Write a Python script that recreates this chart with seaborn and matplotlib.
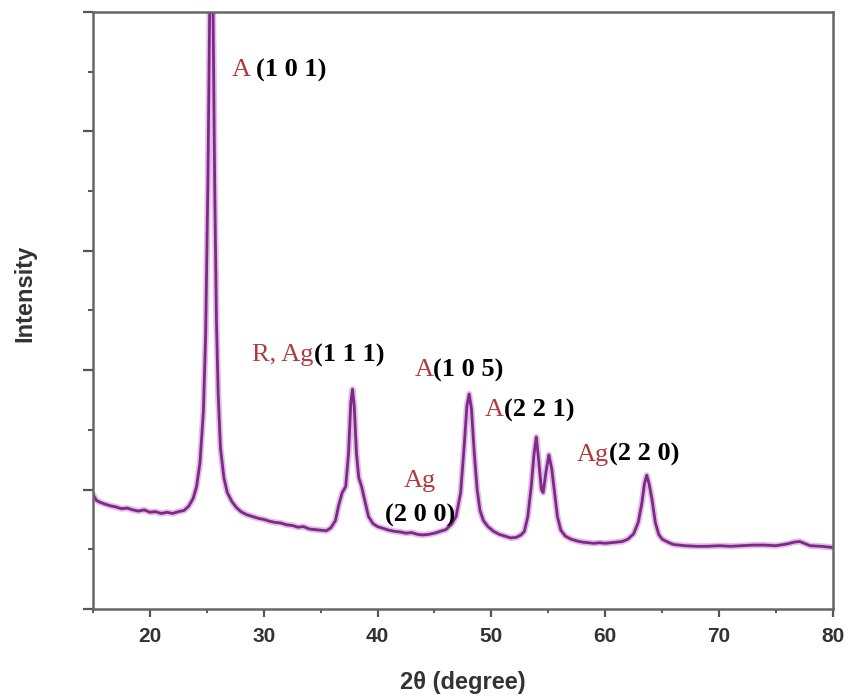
import matplotlib
matplotlib.use("Agg")
import matplotlib.pyplot as plt
import numpy as np
import pandas as pd
import seaborn as sns

# Padrão de DRX (2θ em graus, intensidade em unidades arbitrárias)
dois_theta = [
    15.0, 15.3, 15.6, 16.0, 16.5, 17.0, 17.5, 18.0, 18.5, 19.0, 19.5, 20.0,
    20.5, 21.0, 21.5, 22.0, 22.5, 23.0, 23.4, 23.8, 24.1, 24.4, 24.7, 24.9,
    25.1, 25.25, 25.4, 25.55, 25.7, 25.85, 26.0, 26.2, 26.5, 26.8, 27.2, 27.6,
    28.0, 28.5, 29.0, 29.5, 30.0, 30.5, 31.0, 31.5, 32.0, 32.5, 33.0, 33.5,
    34.0, 34.5, 35.0, 35.5, 35.9, 36.3, 36.6, 36.9, 37.2, 37.45, 37.65, 37.8,
    37.95, 38.15, 38.35, 38.6, 38.9, 39.2, 39.6, 40.0, 40.5, 41.0, 41.5, 42.0,
    42.5, 43.0, 43.5, 44.0, 44.5, 45.0, 45.5, 46.0, 46.5, 46.9, 47.3, 47.6,
    47.85, 48.05, 48.25, 48.5, 48.75, 49.0, 49.3, 49.7, 50.2, 50.7, 51.2, 51.7,
    52.2, 52.6, 52.9, 53.2, 53.5, 53.75, 53.95, 54.15, 54.4, 54.55, 54.8, 55.05,
    55.3, 55.55, 55.8, 56.1, 56.5, 57.0, 57.5, 58.0, 58.5, 59.0, 59.5, 60.0,
    60.5, 61.0, 61.5, 62.0, 62.5, 62.9, 63.2, 63.45, 63.65, 63.85, 64.1, 64.4,
    64.7, 65.0, 65.5, 66.0, 67.0, 68.0, 69.0, 70.0, 71.0, 72.0, 73.0, 74.0,
    75.0, 76.0, 76.6, 77.1, 77.6, 78.0, 79.0, 80.0,
]
intensidade = [
    1.92, 1.82, 1.79, 1.76, 1.73, 1.71, 1.68, 1.69, 1.66, 1.64, 1.66, 1.62,
    1.63, 1.60, 1.62, 1.60, 1.63, 1.65, 1.72, 1.85, 2.05, 2.45, 3.30, 4.60,
    7.20, 10.0, 11.5, 10.0, 7.00, 4.80, 3.60, 2.70, 2.20, 1.95, 1.80, 1.70,
    1.63, 1.58, 1.55, 1.52, 1.50, 1.47, 1.45, 1.44, 1.41, 1.40, 1.37, 1.38,
    1.34, 1.33, 1.32, 1.31, 1.36, 1.48, 1.75, 1.95, 2.05, 2.60, 3.45, 3.68,
    3.40, 2.60, 2.20, 2.05, 1.80, 1.55, 1.43, 1.38, 1.35, 1.32, 1.30, 1.29,
    1.27, 1.28, 1.25, 1.24, 1.25, 1.27, 1.30, 1.33, 1.42, 1.55, 1.95, 2.70,
    3.40, 3.60, 3.35, 2.60, 2.00, 1.65, 1.48, 1.38, 1.30, 1.25, 1.22, 1.19,
    1.20, 1.24, 1.30, 1.55, 2.05, 2.60, 2.88, 2.50, 2.00, 1.95, 2.30, 2.58,
    2.35, 1.95, 1.55, 1.32, 1.22, 1.17, 1.14, 1.12, 1.11, 1.10, 1.11, 1.10,
    1.11, 1.12, 1.13, 1.17, 1.26, 1.45, 1.75, 2.10, 2.24, 2.10, 1.85, 1.45,
    1.25, 1.17, 1.12, 1.08, 1.06, 1.05, 1.05, 1.06, 1.05, 1.06, 1.07, 1.07,
    1.06, 1.09, 1.12, 1.13, 1.09, 1.06, 1.05, 1.03,
]

# Rótulos dos picos: parte vermelha (fase), parte preta (índices de Miller)
rotulos_fase = ["A ", "R, Ag", "A", "A", "Ag"]
rotulos_hkl = ["(1 0 1)", "(1 1 1)", "(1 0 5)", "(2 2 1)", "(2 2 0)"]
rotulos_x = [29.3, 34.4, 44.9, 51.1, 60.3]
rotulos_y = [9.02, 4.25, 4.0, 3.33, 2.58]

# Rótulo empilhado do pico Ag(200)
ag200_x = 43.7
ag200_y = [2.15, 1.57]

COR_FASE = "#b23a3c"
FONTE_SERIF = "Liberation Serif"
FONTE_SANS = "Liberation Sans"

sns.set_theme(style="white")
plt.rcParams["font.family"] = [FONTE_SANS, "DejaVu Sans"]

df = pd.DataFrame({"2theta": dois_theta, "I": intensidade})

fig = plt.figure(figsize=(8.49, 6.98), dpi=100)
ax = fig.add_axes([0.1095, 0.1275, 0.8715, 0.8555])

# Halo claro por baixo da linha principal
sns.lineplot(data=df, x="2theta", y="I", ax=ax, color="#d8a2e0",
             linewidth=4.5, alpha=0.7, sort=False)
sns.lineplot(data=df, x="2theta", y="I", ax=ax, color="#7d2a85",
             linewidth=2.0, sort=False)

ax.set_xlim(15, 80)
ax.set_ylim(0, 10)

ax.set_xticks(np.arange(20, 81, 10))
ax.set_xticks(np.arange(15, 81, 10), minor=True)
ax.set_yticks(np.arange(0, 11, 2))
ax.set_yticks(np.arange(1, 10, 2), minor=True)
ax.set_yticklabels([])

ax.tick_params(axis="x", which="major", direction="out", length=6, width=1.6,
               color="#555555", labelsize=15, labelcolor="#333333", pad=7,
               bottom=True)
ax.tick_params(axis="x", which="minor", direction="out", length=3, width=1.4,
               color="#555555", bottom=True)
ax.tick_params(axis="y", which="major", direction="out", length=7, width=1.6,
               color="#555555", left=True)
ax.tick_params(axis="y", which="minor", direction="out", length=3.5, width=1.4,
               color="#555555", left=True)
for lbl in ax.get_xticklabels():
    lbl.set_fontweight("bold")

for spine in ax.spines.values():
    spine.set_visible(True)
    spine.set_color("#666666")
    spine.set_linewidth(1.8)

ax.set_xlabel("2θ (degree)", fontsize=17, fontweight="bold", color="#333333")
ax.set_ylabel("Intensity", fontsize=17, fontweight="bold", color="#333333")
ax.xaxis.set_label_coords(0.5, -0.103)
ax.yaxis.set_label_coords(-0.076, 0.528)

for fase, hkl, x, y in zip(rotulos_fase, rotulos_hkl, rotulos_x, rotulos_y):
    ax.text(x, y, fase, color=COR_FASE, fontsize=19, family=FONTE_SERIF,
            ha="right", va="center")
    ax.text(x, y, hkl, color="black", fontsize=19, family=FONTE_SERIF,
            fontweight="bold", ha="left", va="center")

ax.text(ag200_x, ag200_y[0], "Ag", color=COR_FASE, fontsize=19,
        family=FONTE_SERIF, ha="center", va="center")
ax.text(ag200_x, ag200_y[1], "(2 0 0)", color="black", fontsize=19,
        family=FONTE_SERIF, fontweight="bold", ha="center", va="center")

fig.savefig("out.png", dpi=100)
plt.close(fig)
